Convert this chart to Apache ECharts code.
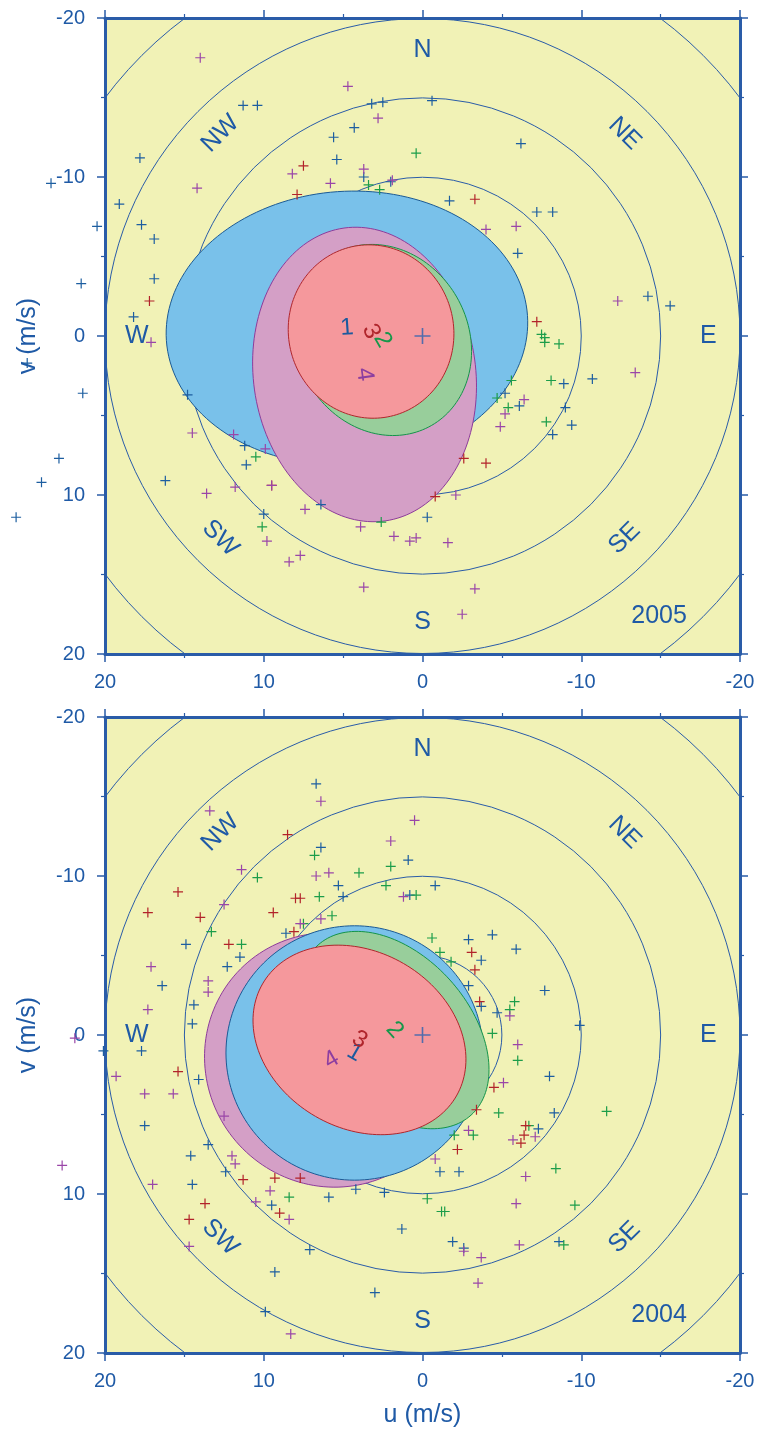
<!DOCTYPE html>
<html>
<head>
<meta charset="utf-8">
<script src="https://cdn.jsdelivr.net/npm/echarts@6/dist/echarts.min.js"></script>
<style>
  html, body { margin: 0; padding: 0; background: #fff; }
  #chart { width: 760px; height: 1432px; }
</style>
</head>
<body>
<div id="chart"></div>
<script>
// ---- data (u, v in m/s) ----
const ringRadii = [5, 10, 15, 20, 25];
const tickVals = [-20, -10, 0, 10, 20];
const compassNames = ['N', 'NE', 'E', 'SE', 'S', 'SW', 'W', 'NW'];
const compassBearing = [0, 45, 90, 135, 180, 225, 270, 315];
const compassRot = [0, -45, 0, 45, 0, -45, 0, 45];
const compassRadius = 18;

// 2005
const blue2005 = [[11.3,-14.5],[10.4,-14.5],[3.2,-14.6],[2.5,-14.7],[4.3,-13.1],[5.6,-12.5],[5.4,-11.1],[17.8,-11.2],[3.7,-10.0],[2.0,-9.7],[19.1,-8.3],[17.7,-7.0],[16.9,-6.1],[16.9,-3.6],[18.2,-1.2],[-0.6,-14.8],[-6.2,-12.1],[-1.7,-8.5],[-7.2,-7.8],[-8.2,-7.8],[-6.0,-5.2],[-14.2,-2.5],[-15.6,-1.9],[-10.7,2.7],[-8.9,3.0],[-5.2,3.6],[-6.1,4.4],[-9.0,4.5],[-9.4,5.6],[-8.2,6.2],[-0.3,11.4],[14.8,3.7],[11.2,6.9],[11.1,8.1],[16.2,9.1],[10.0,11.2],[6.4,10.6],[23.4,-9.6],[20.5,-6.9],[21.5,-3.3],[24.9,1.7],[21.4,3.6],[22.9,7.7],[24.0,9.2],[25.6,11.4]];
const green2005 = [[0.4,-11.5],[3.4,-9.5],[2.7,-9.2],[-7.5,-0.1],[-7.7,0.1],[-7.7,0.4],[-8.6,0.5],[-5.6,2.8],[-8.1,2.8],[-4.7,3.9],[-5.4,4.5],[-7.8,5.4],[10.5,7.6],[10.1,12.0],[2.6,11.7]];
const red2005 = [[7.5,-10.7],[7.9,-8.9],[17.2,-2.2],[-3.3,-8.6],[-7.2,-0.9],[-2.6,7.7],[-4.0,8.0],[-0.8,10.1],[9.5,9.4]];
const purple2005 = [[14.0,-17.5],[4.7,-15.7],[2.8,-13.7],[8.2,-10.2],[3.7,-10.5],[5.8,-9.6],[1.9,-9.8],[14.2,-9.3],[-4.0,-6.7],[-5.9,-6.9],[-12.3,-2.2],[-13.4,2.3],[-6.4,4.0],[-5.2,4.9],[-4.9,5.7],[-2.1,10.0],[-1.6,13.0],[-3.3,15.9],[-2.5,17.5],[17.1,0.4],[14.5,6.1],[11.9,6.2],[9.9,7.1],[13.6,9.9],[11.8,9.5],[9.5,9.4],[9.8,12.9],[8.4,14.2],[7.7,13.8],[7.4,10.9],[3.9,12.0],[1.8,12.6],[0.8,12.9],[0.4,12.7],[3.7,15.8]];
// ellipses: [u centre, v centre, semi-axis a, semi-axis b, angle of a (deg, clockwise on screen)] for groups 1..4
const ell2005 = [[4.76,-0.5,11.4,8.6,-4],[2.52,0.25,6.2,5.4,60],[3.24,-0.28,5.47,5.2,75],[3.65,2.42,9.3,7.0,82]];
const order2005 = [1, 4, 2, 3];
const labelRot2005 = [4, -60, -65, -82];

// 2004
const blue2004 = [[6.7,-15.8],[6.4,-11.8],[0.9,-11.0],[5.3,-9.4],[0.8,-8.8],[5.0,-8.7],[8.6,-6.4],[14.9,-5.7],[12.3,-4.3],[11.5,-4.9],[16.4,-3.1],[14.4,-1.9],[14.5,-0.7],[-0.8,-9.4],[-2.9,-6.0],[-4.4,-6.3],[-5.9,-5.4],[-3.7,-4.7],[-2.9,-3.1],[-7.7,-2.8],[-3.7,-1.8],[-4.7,-1.4],[-9.9,-0.6],[-8.0,2.6],[-8.3,4.9],[-7.3,5.9],[-1.1,8.6],[-2.3,8.6],[-1.9,13.0],[-2.6,13.4],[-8.6,13.0],[20.1,1.0],[17.7,1.0],[14.1,2.8],[17.5,5.7],[13.5,6.9],[14.6,7.6],[12.4,8.6],[14.5,9.4],[5.9,10.2],[4.2,9.7],[2.4,9.9],[9.5,10.7],[7.1,13.5],[1.3,12.2],[9.3,14.9],[3.0,16.2],[9.9,17.4]];
const green2004 = [[6.8,-11.3],[2.0,-10.6],[10.4,-9.9],[4.0,-10.2],[2.3,-9.4],[0.4,-8.8],[6.5,-8.7],[5.7,-7.5],[7.5,-7.0],[13.3,-6.5],[11.4,-5.7],[-0.6,-6.1],[-1.1,-5.2],[-1.8,-4.6],[-5.8,-2.1],[-5.5,-1.6],[-4.4,-0.1],[-6.0,1.6],[-4.8,4.9],[-11.6,4.8],[-6.7,5.7],[-3.2,6.3],[-2.0,6.3],[-8.4,8.4],[-0.3,10.3],[-9.6,10.7],[-1.2,11.1],[-1.4,11.1],[-8.9,13.2],[8.4,10.2]];
const red2004 = [[8.5,-12.6],[15.4,-9.0],[8.0,-8.6],[7.7,-8.6],[17.3,-7.7],[14.0,-7.4],[9.4,-7.7],[8.1,-6.5],[12.2,-5.7],[-3.1,-5.2],[-3.3,-4.1],[-3.6,-2.1],[-4.5,3.3],[-3.4,4.7],[-6.5,5.7],[-6.4,6.3],[-6.2,6.8],[-2.2,7.2],[15.4,2.3],[11.3,9.1],[9.3,9.0],[7.7,9.0],[13.7,10.6],[9.0,11.2],[14.7,11.6]];
const purple2004 = [[6.4,-14.7],[13.4,-14.1],[0.5,-13.5],[2.0,-12.2],[11.4,-10.4],[6.7,-10.0],[5.9,-10.2],[1.2,-8.7],[12.5,-8.2],[6.4,-7.3],[7.7,-7.0],[17.1,-4.3],[13.5,-3.4],[13.5,-2.7],[17.3,-1.6],[-5.5,-1.2],[-6.0,0.6],[-5.1,3.0],[-5.7,6.6],[-7.1,6.4],[-2.9,6.0],[-0.8,7.8],[-6.5,8.9],[-5.9,10.6],[-2.6,13.6],[-3.7,14.0],[-6.1,13.2],[-3.5,15.6],[19.3,2.6],[17.5,3.7],[15.7,3.7],[12.5,5.1],[12.0,7.6],[11.8,8.1],[17.0,9.4],[9.6,9.8],[10.5,10.5],[8.4,11.6],[14.7,13.3],[8.3,18.8],[21.9,0.2],[22.7,8.2]];
const ell2004 = [[4.28,1.13,8.1,8.0,0],[1.76,-0.31,7.2,4.7,48],[3.97,0.31,7.05,5.55,30],[5.73,1.57,8.1,7.9,45]];
const order2004 = [4, 1, 2, 3];
const labelRot2004 = [-30, -48, -30, 30];

const yearText = ['2005', '2004'];
const yearAt = [-14.9, 17.6];

// ---- styles ----
const AXIS = '#2a5ca8', TXT = '#1f5aa6', BG = '#f1f2b6';
const FONT = '"Liberation Sans", Arial, sans-serif';
const PLUS = 'path://M4.4,0h1.2v4.4h4.4v1.2h-4.4v4.4h-1.2v-4.4h-4.4v-1.2h4.4z';
const PLUS_BIG = 'path://M4.5,0h1v4.5h4.5v1h-4.5v4.5h-1v-4.5h-4.5v-1h4.5z';
const fills = {1: '#79c1ea', 2: '#98ce9b', 3: '#f5989c', 4: '#d49fc6'};
const strokes = {1: '#1b5a95', 2: '#14944a', 3: '#b0262c', 4: '#8d3c9b'};
const labelColors = {1: '#1d5a9e', 2: '#16974a', 3: '#b0262c', 4: '#8c3ea0'};
const ptColors = {blue: '#1d5ea0', green: '#1c9d4a', red: '#b2232a', purple: '#9a46a8'};

const chart = echarts.init(document.getElementById('chart'), null, {renderer: 'canvas'});

function xAx(grid, pos, withLabel, name) {
  return {
    gridIndex: grid, type: 'value', position: pos, min: -20, max: 20, interval: 10, inverse: true,
    axisLine: {show: true, onZero: false, lineStyle: {color: AXIS, width: 3}},
    axisTick: {show: true, length: 8, lineStyle: {color: AXIS, width: 1.5}},
    minorTick: {show: true, splitNumber: 2, length: 4, lineStyle: {color: AXIS, width: 1.2}},
    minorSplitLine: {show: false},
    splitLine: {show: false},
    axisLabel: {show: withLabel, color: TXT, fontSize: 20, fontFamily: FONT, margin: 18},
    name: name, nameLocation: 'middle', nameGap: 50,
    nameTextStyle: {color: TXT, fontSize: 25, fontFamily: FONT}
  };
}
function yAx(grid, pos, withLabel, name) {
  return {
    gridIndex: grid, type: 'value', position: pos, min: -20, max: 20, interval: 10, inverse: true,
    axisLine: {show: true, onZero: false, lineStyle: {color: AXIS, width: 3}},
    axisTick: {show: true, length: 8, lineStyle: {color: AXIS, width: 1.5}},
    minorTick: {show: true, splitNumber: 2, length: 4, lineStyle: {color: AXIS, width: 1.2}},
    minorSplitLine: {show: false},
    splitLine: {show: false},
    axisLabel: {show: withLabel, color: TXT, fontSize: 20, fontFamily: FONT, margin: 20},
    name: name, nameLocation: 'middle', nameGap: 64, nameRotate: 90,
    nameTextStyle: {color: TXT, fontSize: 25, fontFamily: FONT}
  };
}

function textItem(api, text, color, size) {
  const c = api.coord([api.value(0), api.value(1)]);
  return {
    type: 'text', x: c[0], y: c[1], rotation: api.value(2) * Math.PI / 180,
    style: {text: text, fill: color, font: size + 'px ' + FONT, align: 'center', verticalAlign: 'middle'}
  };
}

function panel(p) {
  const ax = {xAxisIndex: p.xi, yAxisIndex: p.yi};
  const out = [];
  // range rings
  out.push(Object.assign({
    type: 'custom', clip: true, encode: {x: 0, y: 1},
    data: ringRadii.map(r => [0, 0, r]),
    renderItem: (params, api) => {
      const c = api.coord([0, 0]);
      const r = api.size([api.value(2), 0])[0];
      return {type: 'circle', shape: {cx: c[0], cy: c[1], r: r},
        style: {fill: null, stroke: AXIS, lineWidth: 1}};
    }
  }, ax));
  // scattered samples
  [['blue', p.blue], ['green', p.green], ['red', p.red], ['purple', p.purple]].forEach(([k, d]) => {
    out.push(Object.assign({
      type: 'scatter', clip: false, data: d, symbol: PLUS, symbolSize: 10,
      itemStyle: {color: ptColors[k], opacity: 1}, silent: true
    }, ax));
  });
  // ellipses
  out.push(Object.assign({
    type: 'custom', clip: true, encode: {x: 0, y: 1},
    data: p.order.map(g => p.ell[g - 1].concat([g])),
    renderItem: (params, api) => {
      const c = api.coord([api.value(0), api.value(1)]);
      const s = api.size([1, 1]);
      const a = api.value(2), b = api.value(3), th = api.value(4) * Math.PI / 180, g = api.value(5);
      const pts = [];
      for (let k = 0; k < 160; k++) {
        const f = 2 * Math.PI * k / 160;
        const ex = a * Math.cos(f), ey = b * Math.sin(f);
        pts.push([c[0] + (ex * Math.cos(th) - ey * Math.sin(th)) * s[0],
                  c[1] + (ex * Math.sin(th) + ey * Math.cos(th)) * s[1]]);
      }
      return {type: 'polygon', shape: {points: pts},
        style: {fill: fills[g], stroke: strokes[g], lineWidth: 1}};
    }
  }, ax));
  // group numbers at ellipse centres
  out.push(Object.assign({
    type: 'custom', clip: false, encode: {x: 0, y: 1},
    data: [1, 2, 3, 4].map(g => [p.ell[g - 1][0], p.ell[g - 1][1], p.labelRot[g - 1], g]),
    renderItem: (params, api) => textItem(api, String(api.value(3)), labelColors[api.value(3)], 24)
  }, ax));
  // compass points
  out.push(Object.assign({
    type: 'custom', clip: false, encode: {x: 0, y: 1},
    data: compassBearing.map((b, i) => [
      -compassRadius * Math.sin(b * Math.PI / 180),
      -compassRadius * Math.cos(b * Math.PI / 180), compassRot[i]]),
    renderItem: (params, api) => textItem(api, compassNames[params.dataIndex], TXT, 25)
  }, ax));
  // year
  out.push(Object.assign({
    type: 'custom', clip: false, encode: {x: 0, y: 1},
    data: [[yearAt[0], yearAt[1], 0]],
    renderItem: (params, api) => textItem(api, p.year, TXT, 25)
  }, ax));
  // origin marker
  out.push(Object.assign({
    type: 'scatter', data: [[0, 0]], symbol: PLUS_BIG, symbolSize: 16,
    itemStyle: {color: '#2a62b0'}, silent: true
  }, ax));
  return out;
}

const option = {
  animation: false,
  backgroundColor: '#ffffff',
  grid: [
    {left: 105, top: 18, width: 635, height: 636, show: true, backgroundColor: BG, borderWidth: 0},
    {left: 105, top: 717, width: 635, height: 636, show: true, backgroundColor: BG, borderWidth: 0}
  ],
  xAxis: [xAx(0, 'bottom', true, ''), xAx(0, 'top', false, ''), xAx(1, 'bottom', true, 'u (m/s)'), xAx(1, 'top', false, '')],
  yAxis: [yAx(0, 'left', true, 'v (m/s)'), yAx(0, 'right', false, ''), yAx(1, 'left', true, 'v (m/s)'), yAx(1, 'right', false, '')],
  series: [].concat(
    panel({xi: 0, yi: 0, blue: blue2005, green: green2005, red: red2005, purple: purple2005,
      ell: ell2005, order: order2005, labelRot: labelRot2005, year: yearText[0]}),
    panel({xi: 2, yi: 2, blue: blue2004, green: green2004, red: red2004, purple: purple2004,
      ell: ell2004, order: order2004, labelRot: labelRot2004, year: yearText[1]})
  )
};
chart.setOption(option);
</script>
</body>
</html>
